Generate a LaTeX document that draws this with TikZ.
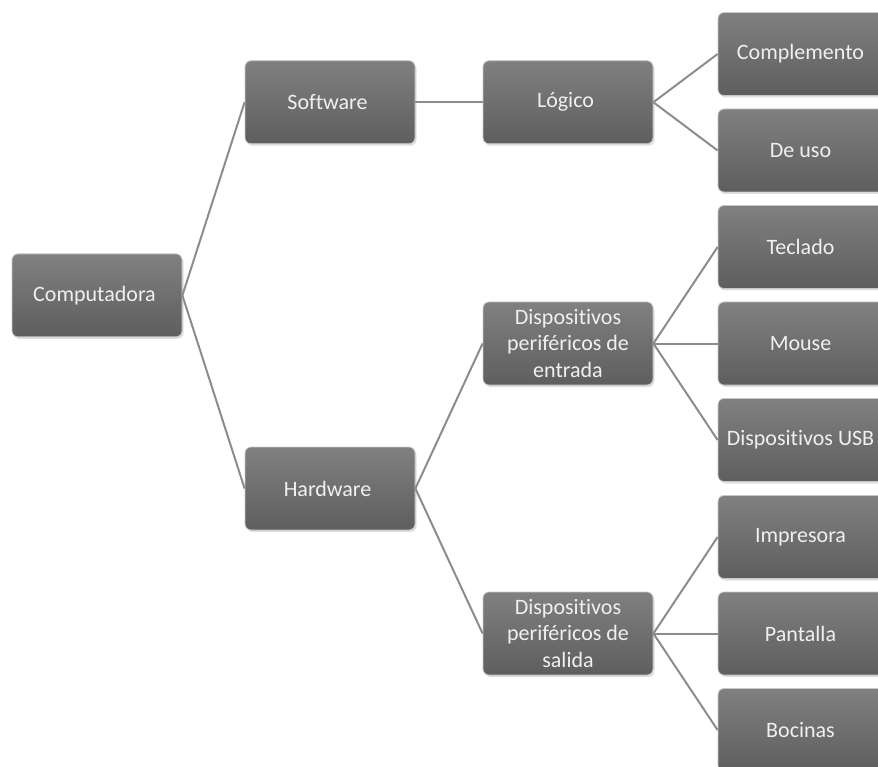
\documentclass[tikz,border=0pt]{standalone}
\usepackage{fontspec}
\setmainfont[Ligatures=NoCommon]{Carlito}
\usetikzlibrary{positioning, calc, shadows}

\definecolor{boxtop}{RGB}{128,128,128}
\definecolor{boxbot}{RGB}{94,94,94}
\definecolor{boxrim}{RGB}{200,200,200}
\definecolor{linkgray}{RGB}{140,140,140}

\begin{document}
\begin{tikzpicture}[%
    node distance=96.5pt and 235pt, % Global setup of box spacing
    ]

\tikzset{
  base/.style={on grid, align=center, minimum width=170pt, minimum height=83pt,
               font=\fontsize{22}{26.5}\selectfont},
  box/.style={base, rounded corners=6pt, draw=boxrim, line width=0.8pt,
              top color=boxtop, bottom color=boxbot, text=white!94!black,
              drop shadow={opacity=0.25, shadow xshift=1.5pt, shadow yshift=-2pt}},
  link/.style={draw=linkgray, line width=2pt}
  };

\useasboundingbox (0,0) rectangle (878pt,-767pt);
\clip (0,0) rectangle (878pt,-767pt);

% Third level
\node[box] (entrada) at (568pt,-343.5pt) { Dispositivos\\periféricos de\\entrada };
\node[box, below=290pt of entrada] (salida) { Dispositivos\\periféricos de\\salida };

% Leaves
\node[box, right=of entrada] (mouse) { Mouse };
\node[box, above=of mouse] (teclado) { Teclado };
\node[box, below=of mouse] (usb) { Dispositivos USB };
\node[box, above=of teclado] (deuso) { De uso };
\node[box, above=of deuso] (complemento) { Complemento };

\node[box, right=of salida] (pantalla) { Pantalla };
\node[box, above=of pantalla] (impresora) { Impresora };
\node[box, below=of pantalla] (bocinas) { Bocinas };

\node[box] (logico) at ($(complemento)!0.5!(deuso) + (-235pt,0)$) { Lógico };

% Second level
\node[box, left=238pt of logico] (software) { Software };
\node[box] (hardware) at ($(entrada)!0.5!(salida) + (-238pt,0)$) { Hardware };

% Root
\node[box] (computadora) at ($(software)!0.5!(hardware) + (-233pt,0)$) { Computadora };

% Links
\draw[link] (computadora.east) -- (software.west);
\draw[link] (computadora.east) -- (hardware.west);
\draw[link] (software.east) -- (logico.west);
\draw[link] (logico.east) -- (complemento.west);
\draw[link] (logico.east) -- (deuso.west);
\draw[link] (hardware.east) -- (entrada.west);
\draw[link] (hardware.east) -- (salida.west);
\draw[link] (entrada.east) -- (teclado.west);
\draw[link] (entrada.east) -- (mouse.west);
\draw[link] (entrada.east) -- (usb.west);
\draw[link] (salida.east) -- (impresora.west);
\draw[link] (salida.east) -- (pantalla.west);
\draw[link] (salida.east) -- (bocinas.west);

\end{tikzpicture}
\end{document}
